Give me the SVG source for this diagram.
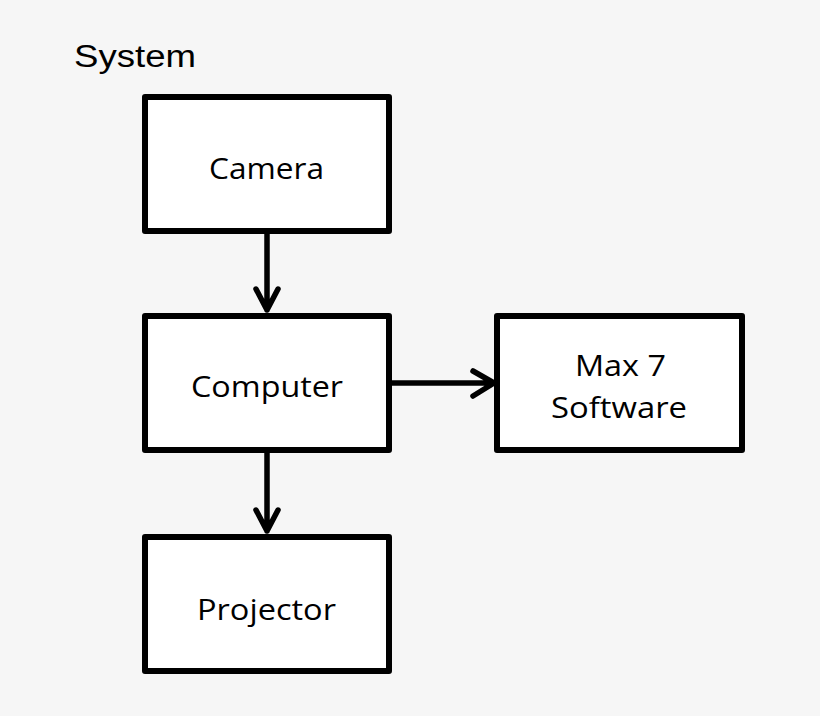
<svg xmlns="http://www.w3.org/2000/svg" width="820" height="716" viewBox="0 0 820 716">
<defs>
<style>
.bg{fill:#f6f6f6}
.box{fill:#ffffff;stroke:#000000;stroke-width:6;stroke-linejoin:round}
.lbl{font-family:"Open Sans","Noto Sans","DejaVu Sans",sans-serif;font-size:29px;fill:#000000}
.title{font-family:"Liberation Sans",Arial,sans-serif;font-size:31px;fill:#000000}
.conn{fill:none;stroke:#000000;stroke-width:5.5;stroke-linecap:round;stroke-linejoin:round}
</style>
</defs>
<rect class="bg" x="0" y="0" width="820" height="716"/>
<text class="title" x="74" y="67" textLength="122" lengthAdjust="spacingAndGlyphs">System</text>
<g id="camera">
<rect class="box" x="145" y="97" width="244" height="134"/>
<text class="lbl" x="209" y="179" textLength="115" lengthAdjust="spacingAndGlyphs">Camera</text>
</g>
<g id="computer">
<rect class="box" x="145" y="316" width="244" height="134"/>
<text class="lbl" x="191" y="397" textLength="152" lengthAdjust="spacingAndGlyphs">Computer</text>
</g>
<g id="max7">
<rect class="box" x="497" y="316" width="245" height="134"/>
<text class="lbl" x="575" y="376" textLength="91" lengthAdjust="spacingAndGlyphs">Max 7</text>
<text class="lbl" x="551" y="418" textLength="136" lengthAdjust="spacingAndGlyphs">Software</text>
</g>
<g id="projector">
<rect class="box" x="145" y="537" width="244" height="134"/>
<text class="lbl" x="197" y="620" textLength="139" lengthAdjust="spacingAndGlyphs">Projector</text>
</g>
<g id="connectors">
<path class="conn" d="M267 234 L267 310 M256 289 L267 310 L278 289"/>
<path class="conn" d="M392 383 L494 383 M473 371 L494 383 L473 396"/>
<path class="conn" d="M267 453 L267 531 M256 510 L267 531 L278 510"/>
</g>
</svg>
